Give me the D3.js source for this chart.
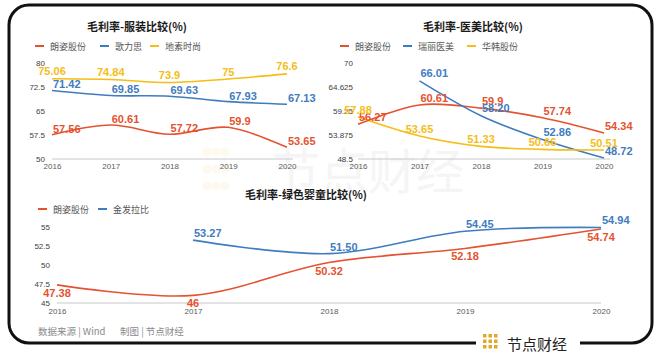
<!DOCTYPE html>
<html>
<head>
<meta charset="utf-8">
<script src="https://cdn.jsdelivr.net/npm/d3@7"></script>
<style>
  body { margin: 0; background: #fff; }
  svg { display: block; }
  text { font-family: "Liberation Sans", Arial, sans-serif; }
  .cjk { font-family: "Noto Sans CJK SC", "Noto Sans", sans-serif; }
</style>
</head>
<body>
<svg width="660" height="354"></svg>
<script>
// ---- data ----
const years = ["2016", "2017", "2018", "2019", "2020"];

const apparelTicks = [50, 57.5, 65, 72.5, 80];
const langziApparel = [57.56, 60.61, 57.72, 59.9, 53.65];
const ellassay = [71.42, 69.85, 69.63, 67.93, 67.13];
const dazzle = [75.06, 74.84, 73.9, 75, 76.6];

const medTicks = [48.5, 53.875, 59.25, 64.625, 70];
const langziMed = [56.27, 60.61, 59.9, 57.74, 54.34];
const ruili = [null, 66.01, 58.20, 52.86, 48.72];
const huahan = [57.88, 53.65, 51.33, 50.66, 50.51];

const babyTicks = [45, 47.5, 50, 52.5, 55];
const langziBaby = [47.38, 46, 50.32, 52.18, 54.74];
const jinfa = [null, 53.27, 51.50, 54.45, 54.94];

const RED = "#E5522F", BLUE = "#3F7CC0", YELLOW = "#F5BD16";

const svg = d3.select("svg");
svg.append("rect").attr("width", 660).attr("height", 354).attr("fill", "#fff");

// faint watermark in the middle
const wm = svg.append("g").attr("class", "watermark");
for (let r = 0; r < 3; r++) {
    for (let c = 0; c < 3; c++) {
        wm.append("circle")
            .attr("cx", 207 + c * 9).attr("cy", 152 + r * 17)
            .attr("r", 4.5).attr("fill", "#fdf9ef");
    }
}
wm.append("text").attr("class", "cjk")
    .attr("x", 272).attr("y", 189)
    .attr("font-size", 48).attr("fill", "#f5f5f5")
    .text("节点财经");

const panels = [
    {
        title: "毛利率-服装比较(%)", titleX: 137, titleY: 26,
        legendY: 46, legendX: [35, 100, 150],
        x0: 52, x1: 287, axisEnd: 293, yTop: 63, yBottom: 159,
        ticks: apparelTicks, yLabelX: 45, xLabelY: 168,
        series: [
            { name: "朗姿股份", values: langziApparel, color: RED, anchor: "start", dx: 1, dy: -6 },
            { name: "歌力思", values: ellassay, color: BLUE, anchor: "start", dx: 1, dy: -6 },
            { name: "地素时尚", values: dazzle, color: YELLOW, anchor: "middle", dx: 0, dy: -7.5 }
        ]
    },
    {
        title: "毛利率-医美比较(%)", titleX: 473, titleY: 26,
        legendY: 46, legendX: [340, 403, 467],
        x0: 358, x1: 604, axisEnd: 610, yTop: 63, yBottom: 159,
        ticks: medTicks, yLabelX: 353, xLabelY: 168,
        series: [
            { name: "朗姿股份", values: langziMed, color: RED, anchor: "start", dx: 1, dy: -7 },
            { name: "瑞丽医美", values: ruili, color: BLUE, anchor: "start", dx: 1, dy: -7.5, fixed: 2 },
            { name: "华韩股份", values: huahan, color: YELLOW, anchor: "middle", dx: 0, dy: -7 }
        ]
    },
    {
        title: "毛利率-绿色婴童比较(%)", titleX: 306, titleY: 194,
        legendY: 209, legendX: [38, 98],
        x0: 57, x1: 601, axisEnd: 601, yTop: 227, yBottom: 303,
        ticks: babyTicks, yLabelX: 50, xLabelY: 313,
        series: [
            { name: "朗姿股份", values: langziBaby, color: RED, anchor: "middle", dx: 0, dy: 8 },
            { name: "金发拉比", values: jinfa, color: BLUE, anchor: "start", dx: 1, dy: -7, fixed: 2 }
        ]
    }
];

panels.forEach(p => {
    const g = svg.append("g");
    const x = d3.scalePoint().domain(years).range([p.x0, p.x1]);
    const y = d3.scaleLinear()
        .domain([p.ticks[0], p.ticks[p.ticks.length - 1]])
        .range([p.yBottom, p.yTop]);

    // title
    g.append("text").attr("class", "cjk")
        .attr("x", p.titleX).attr("y", p.titleY)
        .attr("text-anchor", "middle").attr("dominant-baseline", "central")
        .attr("font-size", 11).attr("font-weight", "bold").attr("fill", "#1a1a1a")
        .text(p.title);

    // legend
    p.series.forEach((s, i) => {
        const lx = p.legendX[i];
        g.append("line")
            .attr("x1", lx).attr("x2", lx + 9)
            .attr("y1", p.legendY).attr("y2", p.legendY)
            .attr("stroke", s.color).attr("stroke-width", 2);
        g.append("text").attr("class", "cjk")
            .attr("x", lx + 15).attr("y", p.legendY)
            .attr("dominant-baseline", "central")
            .attr("font-size", 9).attr("fill", "#555")
            .text(s.name);
    });

    // baseline
    g.append("line")
        .attr("x1", p.x0).attr("x2", p.axisEnd)
        .attr("y1", p.yBottom).attr("y2", p.yBottom)
        .attr("stroke", "#c8c8c8").attr("stroke-width", 1);

    // y axis labels
    const yAxis = g.append("g")
        .attr("transform", `translate(${p.yLabelX},0)`)
        .call(d3.axisLeft(y).tickValues(p.ticks).tickSize(0).tickPadding(0)
            .tickFormat(d => String(d)));
    yAxis.select(".domain").remove();
    yAxis.selectAll("text")
        .attr("font-family", "'Liberation Sans', Arial, sans-serif")
        .attr("font-size", 8).attr("fill", "#404040");

    // x axis labels
    const xAxis = g.append("g")
        .attr("transform", `translate(0,${p.xLabelY - 5})`)
        .call(d3.axisBottom(x).tickSize(0).tickPadding(0));
    xAxis.select(".domain").remove();
    xAxis.selectAll("text")
        .attr("font-family", "'Liberation Sans', Arial, sans-serif")
        .attr("font-size", 8).attr("fill", "#595959");

    const line = d3.line()
        .x(d => x(d.year))
        .y(d => y(d.v))
        .curve(d3.curveCardinal.tension(0));

    p.series.forEach(s => {
        const pts = years.map((yr, i) => ({ year: yr, v: s.values[i] }));
        g.append("path")
            .datum(pts.filter(d => d.v !== null))
            .attr("fill", "none")
            .attr("stroke", s.color)
            .attr("stroke-width", 1.6)
            .attr("d", line);
    });

    // data labels drawn after lines
    p.series.forEach(s => {
        const pts = years.map((yr, i) => ({ year: yr, v: s.values[i] })).filter(d => d.v !== null);
        g.selectAll(null)
            .data(pts)
            .enter()
            .append("text")
            .attr("x", d => x(d.year) + s.dx)
            .attr("y", d => y(d.v) + s.dy)
            .attr("text-anchor", s.anchor)
            .attr("dominant-baseline", "central")
            .attr("font-size", 11).attr("font-weight", "bold")
            .attr("fill", s.color)
            .text(d => s.fixed ? d.v.toFixed(s.fixed) : String(d.v));
    });
});

// footer
svg.append("text").attr("class", "cjk")
    .attr("x", 38).attr("y", 331)
    .attr("dominant-baseline", "central")
    .attr("font-size", 9.5).attr("fill", "#8a8a8a")
    .text("数据来源 | Wind");
svg.append("text").attr("class", "cjk")
    .attr("x", 120).attr("y", 331)
    .attr("dominant-baseline", "central")
    .attr("font-size", 9.5).attr("fill", "#8a8a8a")
    .text("制图 | 节点财经");

// frame with a gap for the logo
svg.append("rect")
    .attr("x", 9).attr("y", 5).attr("width", 643).attr("height", 338)
    .attr("rx", 20).attr("ry", 20)
    .attr("fill", "none").attr("stroke", "#111").attr("stroke-width", 3);
svg.append("rect")
    .attr("x", 476).attr("y", 338).attr("width", 104).attr("height", 12)
    .attr("fill", "#fff");

const logo = svg.append("g");
for (let r = 0; r < 3; r++) {
    for (let c = 0; c < 3; c++) {
        logo.append("rect")
            .attr("x", 483 + c * 5.5).attr("y", 334 + r * 5.5)
            .attr("width", 3.5).attr("height", 3.5)
            .attr("fill", "#E3A72B");
    }
}
logo.append("text").attr("class", "cjk")
    .attr("x", 507).attr("y", 343)
    .attr("dominant-baseline", "central")
    .attr("font-size", 15).attr("fill", "#222")
    .text("节点财经");
</script>
</body>
</html>
